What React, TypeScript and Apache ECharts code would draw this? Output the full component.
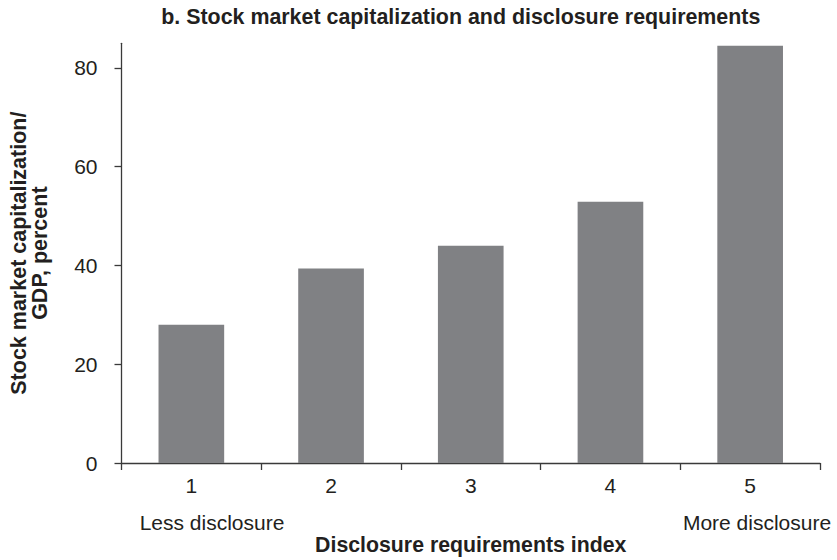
import React, { useEffect, useRef } from "react";
import * as echarts from "echarts";

const categories = ["1", "2", "3", "4", "5"];
const values = [28.0, 39.4, 44.0, 52.9, 84.5];
const yTicks = [0, 20, 40, 60, 80];
const titleText = "b. Stock market capitalization and disclosure requirements";
const xAxisName = "Disclosure requirements index";
const yAxisName = "Stock market capitalization/\nGDP, percent";
const leftEndLabel = "Less disclosure";
const rightEndLabel = "More disclosure";

const FONT = "'Liberation Sans', Arial, Helvetica, sans-serif";
const TEXT = "#231f20";
const AXIS = "#3a3a3a";

export default function App() {
  const ref = useRef<HTMLDivElement>(null);
  useEffect(() => {
    if (!ref.current) return;
    const chart = echarts.init(ref.current, null, { renderer: "svg" });
    chart.setOption({
      animation: false,
      backgroundColor: "#ffffff",
      textStyle: { fontFamily: FONT },
      grid: { left: 117.7, right: 17, top: 43.3, bottom: 92.3, containLabel: false },
      graphic: [
        {
          type: "text",
          x: 460.8,
          y: 17,
          style: {
            text: titleText,
            font: `bold 21.4px ${FONT}`,
            fill: TEXT,
            textAlign: "center",
            textVerticalAlign: "middle",
          },
        },
        {
          type: "text",
          x: 212,
          y: 522.5,
          style: {
            text: leftEndLabel,
            font: `21px ${FONT}`,
            fill: TEXT,
            textAlign: "center",
            textVerticalAlign: "middle",
          },
        },
        {
          type: "text",
          x: 757,
          y: 522.5,
          style: {
            text: rightEndLabel,
            font: `21px ${FONT}`,
            fill: TEXT,
            textAlign: "center",
            textVerticalAlign: "middle",
          },
        },
      ],
      xAxis: {
        type: "category",
        data: categories,
        name: xAxisName,
        nameLocation: "middle",
        nameGap: 71,
        nameTextStyle: { fontSize: 21.3, fontWeight: "bold", color: TEXT, fontFamily: FONT },
        axisLine: { show: true, lineStyle: { color: AXIS, width: 1.3 } },
        axisTick: { show: true, length: 7, lineStyle: { color: AXIS, width: 1.3 } },
        axisLabel: { fontSize: 21, color: TEXT, margin: 12, fontFamily: FONT },
        splitLine: { show: false },
      },
      yAxis: {
        type: "value",
        min: 0,
        max: 85,
        interval: 20,
        name: yAxisName,
        nameLocation: "middle",
        nameGap: 71,
        nameTextStyle: { fontSize: 21.5, fontWeight: "bold", color: TEXT, fontFamily: FONT, lineHeight: 21 },
        axisLine: { show: true, lineStyle: { color: AXIS, width: 1.3 } },
        axisTick: { show: true, length: 7, customValues: yTicks, lineStyle: { color: AXIS, width: 1.3 } },
        axisLabel: { fontSize: 21, color: TEXT, margin: 24, customValues: yTicks, fontFamily: FONT },
        splitLine: { show: false },
      },
      series: [
        {
          type: "bar",
          data: values,
          barCategoryGap: "53%",
          itemStyle: { color: "#808184" },
        },
      ],
    });
    return () => chart.dispose();
  }, []);
  return <div ref={ref} style={{ width: 837, height: 560, position: "absolute", left: 0, top: 0 }} />;
}
